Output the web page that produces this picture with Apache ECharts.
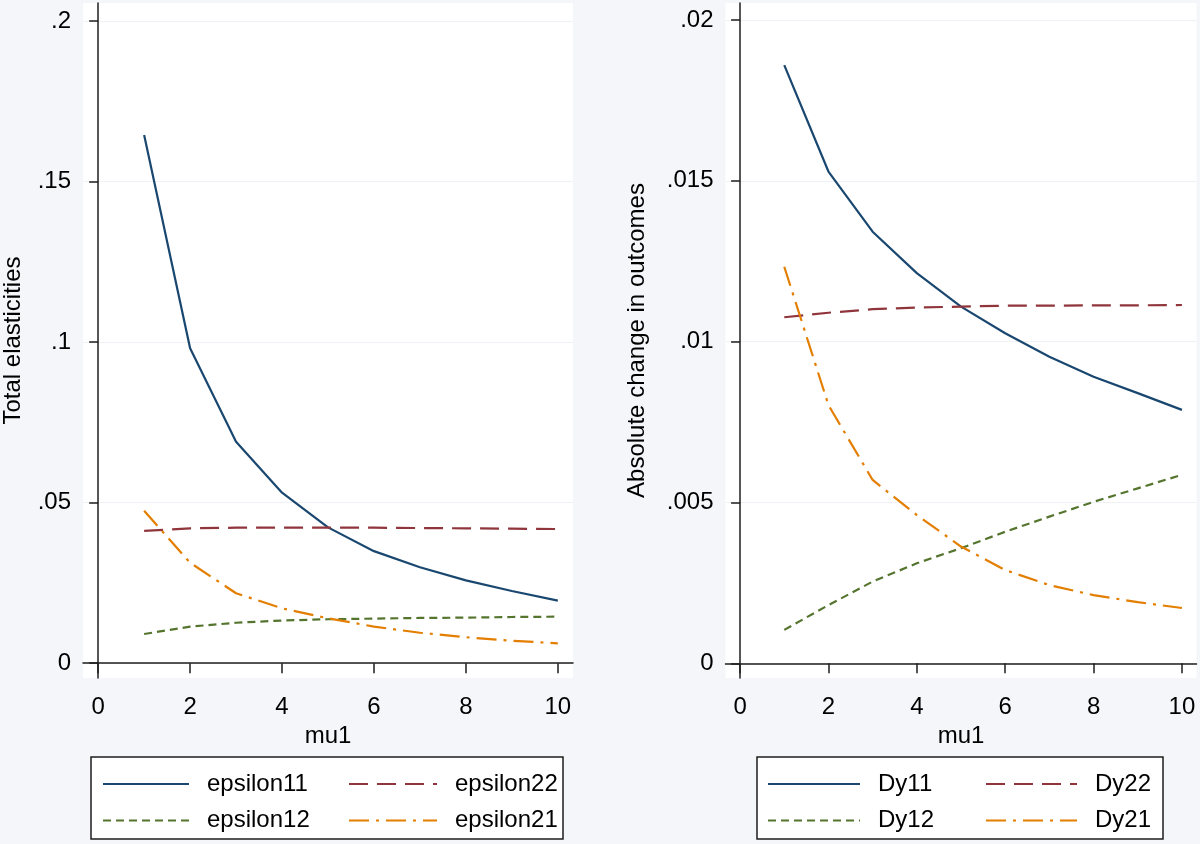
<!DOCTYPE html>
<html>
<head>
<meta charset="utf-8">
<script src="https://cdn.jsdelivr.net/npm/echarts@6/dist/echarts.min.js"></script>
<style>
  html, body { margin: 0; padding: 0; background: #f4f6fa; }
  #chart { width: 1200px; height: 844px; }
</style>
</head>
<body>
<div id="chart"></div>
<script>
// x values (mu1) shared by all series
const mu1 = [1, 2, 3, 4, 5, 6, 7, 8, 9, 10]
const xTicks = [0, 2, 4, 6, 8, 10]
const leftTicks = [0, 0.05, 0.1, 0.15, 0.2]
const rightTicks = [0, 0.005, 0.01, 0.015, 0.02]

// left panel: total elasticities
const epsilon11 = [0.1645, 0.0981, 0.0690, 0.0531, 0.0423, 0.0349, 0.0299, 0.0258, 0.0225, 0.0195]
const epsilon22 = [0.0412, 0.0420, 0.0422, 0.0422, 0.0422, 0.0422, 0.0421, 0.0420, 0.0419, 0.0418]
const epsilon12 = [0.0091, 0.0114, 0.0126, 0.0133, 0.0137, 0.0139, 0.0141, 0.0142, 0.0144, 0.0145]
const epsilon21 = [0.0475, 0.0313, 0.0218, 0.0171, 0.0140, 0.0114, 0.0095, 0.0081, 0.0070, 0.0062]

// right panel: absolute change in outcomes
const Dy11 = [0.01860, 0.01529, 0.01342, 0.01213, 0.01109, 0.01026, 0.00953, 0.00891, 0.00840, 0.00788]
const Dy22 = [0.01076, 0.01090, 0.01101, 0.01106, 0.01109, 0.01112, 0.01112, 0.01113, 0.01113, 0.01114]
const Dy12 = [0.00104, 0.00181, 0.00254, 0.00311, 0.00358, 0.00409, 0.00456, 0.00502, 0.00544, 0.00586]
const Dy21 = [0.01233, 0.00803, 0.00570, 0.00461, 0.00363, 0.00290, 0.00243, 0.00212, 0.00190, 0.00172]

const FONT = 'Liberation Sans, Arial, sans-serif'
const FS = 24
const NAVY = '#1a476f'
const MAROON = '#90353b'
const GREEN = '#55752f'
const ORANGE = '#e37e00'
const AXIS = '#1e1e1e'

const SOLID = 'solid'
const LONGDASH = [19, 9]
const SHORTDASH = [8, 5]
const DASHDOT = [20, 7, 3, 7]

function fmt(v) {
  return v === 0 ? '0' : String(v).replace(/^0\./, '.')
}

function line(name, values, color, dash, idx) {
  return {
    name: name,
    type: 'line',
    xAxisIndex: idx,
    yAxisIndex: idx,
    data: mu1.map((m, i) => [m, values[i]]),
    symbol: 'none',
    showSymbol: false,
    itemStyle: { color: color },
    lineStyle: { color: color, width: 2.2, type: dash }
  }
}

function xAxis(idx) {
  return {
    type: 'value',
    gridIndex: idx,
    min: -0.33,
    max: 10.33,
    name: 'mu1',
    nameLocation: 'middle',
    nameGap: 43,
    nameTextStyle: { fontFamily: FONT, fontSize: FS, color: '#000' },
    axisLine: { lineStyle: { color: AXIS, width: 1.5 } },
    axisTick: { show: true, length: 10, customValues: xTicks, lineStyle: { color: AXIS, width: 1.5 } },
    axisLabel: { customValues: xTicks, margin: 17, fontFamily: FONT, fontSize: FS, color: '#000' },
    splitLine: { show: false }
  }
}

function yAxis(idx, min, max, ticks, name, gap) {
  return {
    type: 'value',
    gridIndex: idx,
    min: min,
    max: max,
    name: name,
    nameLocation: 'middle',
    nameGap: gap,
    nameTextStyle: { fontFamily: FONT, fontSize: FS, color: '#000' },
    axisLine: { show: true, lineStyle: { color: AXIS, width: 1.5 } },
    axisTick: { show: true, length: 9, customValues: ticks, lineStyle: { color: AXIS, width: 1.5 } },
    axisLabel: { customValues: ticks, margin: 12, fontFamily: FONT, fontSize: FS, color: '#000', formatter: fmt },
    splitLine: { show: true, lineStyle: { color: '#eef1f5', width: 1 } }
  }
}

function legend(left, names, itemWidth) {
  return {
    orient: 'vertical',
    left: left,
    top: 772,
    padding: 0,
    itemWidth: itemWidth,
    itemHeight: 14,
    itemGap: 12.5,
    selectedMode: false,
    data: names,
    itemStyle: { opacity: 0 },
    textStyle: { fontFamily: FONT, fontSize: FS, color: '#000', lineHeight: 24, padding: [0, 0, 0, 13] }
  }
}

const chart = echarts.init(document.getElementById('chart'))
chart.setOption({
  backgroundColor: '#f4f6fa',
  animation: false,
  grid: [
    { left: 82, top: 3, width: 491, height: 675, show: true, backgroundColor: '#fff', borderWidth: 0 },
    { left: 725.5, top: 3, width: 471, height: 675, show: true, backgroundColor: '#fff', borderWidth: 0 }
  ],
  xAxis: [xAxis(0), xAxis(1)],
  yAxis: [
    yAxis(0, -0.0046, 0.2056, leftTicks, 'Total elasticities', 58),
    yAxis(1, -0.000457, 0.02053, rightTicks, 'Absolute change in outcomes', 76)
  ],
  legend: [
    legend(102, ['epsilon11', 'epsilon12'], 86),
    legend(348, ['epsilon22', 'epsilon21'], 88),
    legend(767, ['Dy11', 'Dy12'], 92),
    legend(985, ['Dy22', 'Dy21'], 91)
  ],
  graphic: [
    { type: 'rect', z: 1, shape: { x: 91, y: 757, width: 472, height: 82 }, style: { fill: '#fff', stroke: AXIS, lineWidth: 1.5 } },
    { type: 'rect', z: 1, shape: { x: 757, y: 757, width: 406, height: 82 }, style: { fill: '#fff', stroke: AXIS, lineWidth: 1.5 } }
  ],
  series: [
    line('epsilon11', epsilon11, NAVY, SOLID, 0),
    line('epsilon22', epsilon22, MAROON, LONGDASH, 0),
    line('epsilon12', epsilon12, GREEN, SHORTDASH, 0),
    line('epsilon21', epsilon21, ORANGE, DASHDOT, 0),
    line('Dy11', Dy11, NAVY, SOLID, 1),
    line('Dy22', Dy22, MAROON, LONGDASH, 1),
    line('Dy12', Dy12, GREEN, SHORTDASH, 1),
    line('Dy21', Dy21, ORANGE, DASHDOT, 1)
  ]
})
</script>
</body>
</html>
